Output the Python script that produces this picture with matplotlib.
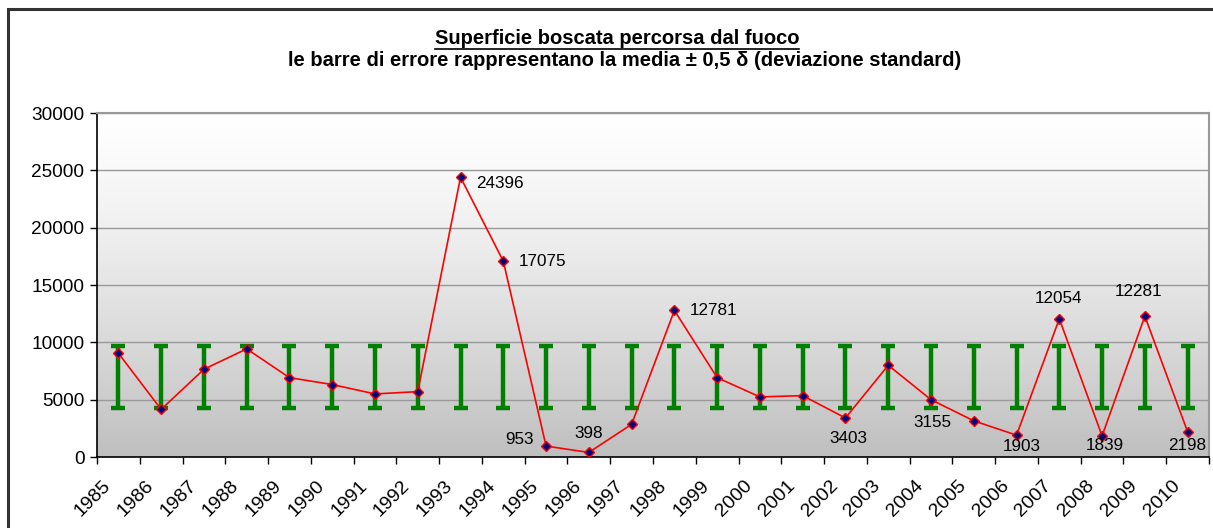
import numpy as np
import matplotlib
matplotlib.use("Agg")
import matplotlib.pyplot as plt
from matplotlib.lines import Line2D
from matplotlib.patches import Rectangle

plt.rcParams['font.family'] = ['Liberation Sans', 'DejaVu Sans']

# data
years = list(range(1985, 2011))
area = [9050, 4150, 7650, 9430, 6920, 6320, 5500, 5700, 24396, 17075,
        953, 398, 2850, 12781, 6920, 5240, 5350, 3403, 8000, 5000,
        3155, 1903, 12054, 1839, 12281, 2198]
err_low = 4300
err_high = 9700

# labelled points: index, text, offset (px), alignment
labels = [
    (8, "24396", (16, -6), 'left'),
    (9, "17075", (15, 0), 'left'),
    (10, "953", (-12, 7), 'right'),
    (11, "398", (0, 19), 'center'),
    (13, "12781", (15, 0), 'left'),
    (17, "3403", (3, -21), 'center'),
    (20, "3155", (-22, -2), 'right'),
    (21, "1903", (5, -11), 'center'),
    (22, "12054", (-1, 20), 'center'),
    (23, "1839", (3, -10), 'center'),
    (24, "12281", (-6, 25), 'center'),
    (25, "2198", (0, -14), 'center'),
]

x = np.arange(len(years)) + 0.5
mean = (err_low + err_high) / 2
half = (err_high - err_low) / 2

fig = plt.figure(figsize=(12.13, 5.28), dpi=100)
fig.patches.append(Rectangle((8 / 1213, -0.1), 1.2, 1 - 9 / 528 + 0.1,
                             transform=fig.transFigure, fill=False,
                             edgecolor='#333333', linewidth=2.2, zorder=0))

ax = fig.add_axes([97 / 1213, 1 - 457 / 528, (1209 - 97) / 1213, (457 - 113) / 528])

# gradient background
grad = np.linspace(0, 1, 256).reshape(-1, 1) ** 1.3
ax.imshow(grad, cmap=matplotlib.colors.LinearSegmentedColormap.from_list(
    'bg', ['#ffffff', '#bfbfbf']), aspect='auto', extent=[0, 1, 0, 1],
    transform=ax.transAxes, zorder=0)

ax.set_xlim(0, len(years))
ax.set_ylim(0, 30000)
ax.set_yticks(range(0, 30001, 5000))
ax.yaxis.grid(True, color='#999999', linewidth=1)
ax.set_axisbelow(True)

ax.errorbar(x, [mean] * len(x), yerr=half, fmt='none', ecolor='#008000',
            elinewidth=3.2, capsize=4.7, capthick=3.2, zorder=2)
ax.plot(x, area, color='#ff0000', linewidth=1.2, marker='D', markersize=5.5,
        markerfacecolor='#000080', markeredgecolor='#ff0000',
        markeredgewidth=1, zorder=3)

for i, txt, (dx, dy), ha in labels:
    ax.annotate(txt, (x[i], area[i]), xytext=(dx, dy), textcoords='offset pixels',
                ha=ha, va='center', fontsize=12.3, color='black', zorder=4)

# category boundary ticks, year label at the left edge of each category
ax.set_xticks(np.arange(len(years) + 1))
ax.set_xticklabels([])
for i, yr in enumerate(years):
    ax.annotate(str(yr), (i, 0), xycoords=('data', 'axes fraction'),
                xytext=(5, -20), textcoords='offset pixels', rotation=45,
                ha='right', va='top', rotation_mode='anchor', fontsize=14,
                annotation_clip=False)
ax.tick_params(axis='x', length=5, width=1, color='black')
ax.tick_params(axis='y', length=5, width=1, labelsize=13.7, pad=4, color='black')

for s in ['left', 'bottom']:
    ax.spines[s].set_color('black')
    ax.spines[s].set_linewidth(1.2)
for s in ['top', 'right']:
    ax.spines[s].set_color('#999999')
    ax.spines[s].set_linewidth(1.5)

t1 = fig.text(617 / 1213, 1 - 38 / 528, "Superficie boscata percorsa dal fuoco",
              ha='center', va='center', fontsize=14.5, fontweight='bold')
fig.text(625 / 1213, 1 - 61 / 528,
         "le barre di errore rappresentano la media ± 0,5 δ (deviazione standard)",
         ha='center', va='center', fontsize=14.5, fontweight='bold')

# underline the first title line
fig.canvas.draw()
bb = t1.get_window_extent().transformed(fig.transFigure.inverted())
fig.add_artist(Line2D([bb.x0, bb.x1], [bb.y0 - 0.002, bb.y0 - 0.002],
                      transform=fig.transFigure, color='black', linewidth=1.2))

fig.savefig("out.png", dpi=100)
